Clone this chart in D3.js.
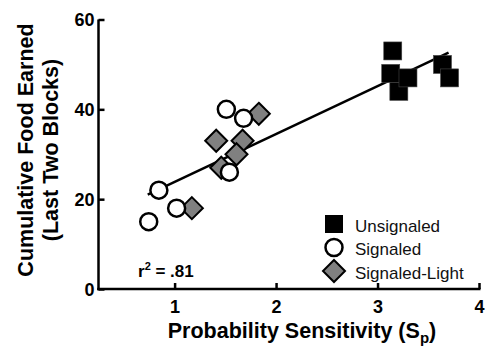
<!DOCTYPE html>
<html>
<head>
<meta charset="utf-8">
<script src="https://cdn.jsdelivr.net/npm/d3@7"></script>
<style>
  body { margin: 0; background: #fff; }
  svg text { font-family: "Liberation Sans", Arial, sans-serif; }
</style>
</head>
<body>
<div id="chart"></div>
<script>
const width = 500, height = 347;

// data
const unsignaled = [[3.15, 53], [3.13, 48], [3.21, 44], [3.30, 47], [3.64, 50], [3.71, 47]];
const signaled = [[1.51, 40], [1.68, 38], [1.54, 26], [0.845, 22], [1.02, 18], [0.745, 15]];
const signaledLight = [[1.83, 39], [1.41, 33], [1.67, 33], [1.61, 30], [1.46, 27], [1.17, 18]];
const fitLine = [[0.735, 21], [3.70, 52.6]];
const xTicks = [1, 2, 3, 4];
const yTicks = [0, 20, 40, 60];
const legendLabels = ["Unsignaled", "Signaled", "Signaled-Light"];

const svg = d3.select("#chart")
    .append("svg")
    .attr("width", width)
    .attr("height", height);

const x = d3.scaleLinear().domain([0.25, 4]).range([98.5, 479]);
const y = d3.scaleLinear().domain([0, 60]).range([289, 19.5]);

// axes
const xAxis = svg.append("g")
    .attr("transform", `translate(0,${y(0)})`)
    .call(d3.axisBottom(x).tickValues(xTicks).tickFormat(d3.format("d"))
        .tickSize(-6).tickPadding(16).tickSizeOuter(0));
const yAxis = svg.append("g")
    .attr("transform", `translate(${x(0.25)},0)`)
    .call(d3.axisLeft(y).tickValues(yTicks).tickSize(-6).tickPadding(5).tickSizeOuter(0));

[xAxis, yAxis].forEach(g => {
    g.select(".domain").attr("stroke", "#000").attr("stroke-width", 2.5);
    g.selectAll(".tick line").attr("stroke", "#000").attr("stroke-width", 2.5);
    g.selectAll(".tick text")
        .attr("fill", "#000")
        .style("font-size", "18px")
        .style("font-weight", "bold");
});
xAxis.select(".domain").attr("d", `M${x(0.25) - 1.25},0H${x(4) + 1.5}`);
yAxis.select(".domain").attr("d", `M0,${y(60)}V${y(0) + 1.25}`);
yAxis.selectAll(".tick text").attr("x", -4).attr("dy", "0.34em");
xAxis.selectAll(".tick text").attr("y", 11).attr("dy", "0.71em");

// regression line
svg.append("path")
    .datum(fitLine)
    .attr("fill", "none")
    .attr("stroke", "#000")
    .attr("stroke-width", 2.5)
    .attr("d", d3.line().x(d => x(d[0])).y(d => y(d[1])));

// markers
const diamond = s => `M0,${-s}L${s},0L0,${s}L${-s},0Z`;

svg.append("g").selectAll("path")
    .data(signaledLight)
    .enter().append("path")
    .attr("transform", d => `translate(${x(d[0])},${y(d[1])})`)
    .attr("d", diamond(11))
    .attr("fill", "#808080")
    .attr("stroke", "#000")
    .attr("stroke-width", 2);

svg.append("g").selectAll("circle")
    .data(signaled)
    .enter().append("circle")
    .attr("cx", d => x(d[0]))
    .attr("cy", d => y(d[1]))
    .attr("r", 8.5)
    .attr("fill", "#fff")
    .attr("stroke", "#000")
    .attr("stroke-width", 2.5);

svg.append("g").selectAll("rect")
    .data(unsignaled)
    .enter().append("rect")
    .attr("x", d => x(d[0]) - 9)
    .attr("y", d => y(d[1]) - 9)
    .attr("width", 18)
    .attr("height", 18)
    .attr("fill", "#000")
    .attr("stroke", "#444")
    .attr("stroke-width", 0.6);

// legend
const legend = svg.append("g").attr("transform", "translate(334,224)");
legend.append("rect").attr("x", -9).attr("y", -9).attr("width", 18).attr("height", 18).attr("fill", "#000");
legend.append("circle").attr("cy", 23.5).attr("r", 8.5)
    .attr("fill", "#fff").attr("stroke", "#000").attr("stroke-width", 2.5);
legend.append("path").attr("transform", "translate(0,47)").attr("d", diamond(11))
    .attr("fill", "#808080").attr("stroke", "#000").attr("stroke-width", 2);
legend.selectAll("text")
    .data(legendLabels)
    .enter().append("text")
    .attr("x", 21)
    .attr("y", (d, i) => 7.5 + i * 23.5)
    .style("font-size", "17px")
    .attr("fill", "#111")
    .text(d => d);

// r squared
const r2 = svg.append("text")
    .attr("x", 138)
    .attr("y", 277)
    .style("font-size", "17px")
    .style("font-weight", "bold");
r2.append("tspan").text("r");
r2.append("tspan").attr("dy", -7).style("font-size", "11px").text("2");
r2.append("tspan").attr("dy", 7).text(" = .81");

// axis titles
const xt = svg.append("text")
    .attr("x", 302)
    .attr("y", 338)
    .attr("text-anchor", "middle")
    .style("font-size", "21.5px")
    .style("font-weight", "bold");
xt.append("tspan").text("Probability Sensitivity (S");
xt.append("tspan").attr("dy", 5).style("font-size", "15px").text("p");
xt.append("tspan").attr("dy", -5).text(")");

const yt = svg.append("text")
    .attr("transform", "translate(0,150) rotate(-90)")
    .attr("text-anchor", "middle")
    .style("font-size", "21.5px")
    .style("font-weight", "bold");
yt.append("tspan").attr("x", 0).attr("y", 33).text("Cumulative Food Earned");
yt.append("tspan").attr("x", 0).attr("y", 58).text("(Last Two Blocks)");
</script>
</body>
</html>
